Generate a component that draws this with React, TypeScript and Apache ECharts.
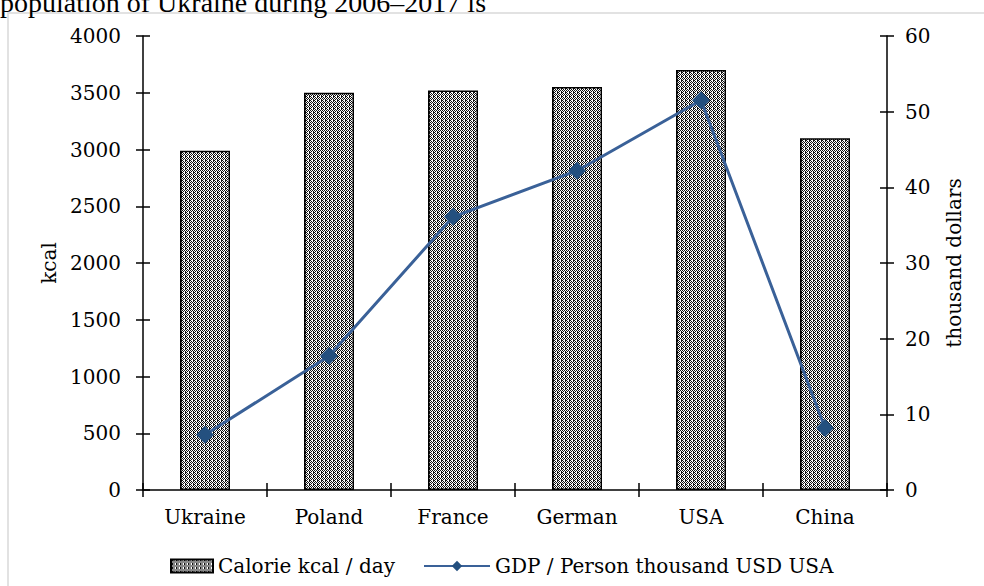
import React, { useEffect, useRef } from "react";
import * as echarts from "echarts";

const categories = ["Ukraine", "Poland", "France", "German", "USA", "China"];
const calories = [2990, 3500, 3520, 3550, 3700, 3100];
const gdp = [7.3, 17.7, 36.1, 42.2, 51.5, 8.2];
const leftTicks = { min: 0, max: 4000, interval: 500 };
const rightTicks = { min: 0, max: 60, interval: 10 };
const barName = "Calorie kcal / day";
const lineName = "GDP / Person thousand USD USA";
const topText = "population of Ukraine during 2006–2017 is";

const FONT = "DejaVu Serif";
const TITLE_FONT = "Liberation Serif";

function makePattern(): HTMLCanvasElement {
  const c = document.createElement("canvas");
  c.width = 4;
  c.height = 4;
  const ctx = c.getContext("2d")!;
  ctx.fillStyle = "#ffffff";
  ctx.fillRect(0, 0, 4, 4);
  ctx.fillStyle = "#111111";
  for (let y = 0; y < 4; y++) {
    for (let x = 0; x < 4; x++) {
      if ((x + y) % 2 === 0 && !(x === 0 && y === 0)) ctx.fillRect(x, y, 1, 1);
    }
  }
  ctx.fillRect(1, 0, 1, 1);
  return c;
}

export default function App() {
  const ref = useRef<HTMLDivElement>(null);
  useEffect(() => {
    if (!ref.current) return;
    const chart = echarts.init(ref.current, undefined, { renderer: "svg" });
    const pattern = { image: makePattern(), repeat: "repeat" } as any;
    const text = { fontFamily: FONT, fontSize: 20, color: "#000" };
    const axisLine = { show: true, lineStyle: { color: "#000", width: 1.5 } };
    const tickStyle = { color: "#000", width: 1.5 };
    const fmt = (v: number) => String(v);
    chart.setOption({
      animation: false,
      backgroundColor: "#fff",
      graphic: [
        {
          type: "rect",
          shape: { x: 8, y: 13, width: 1100, height: 700 },
          style: { fill: "none", stroke: "#d9d9d9", lineWidth: 1.5 },
          silent: true,
          z: -1,
        },
        {
          type: "text",
          x: 0,
          y: -12,
          style: { text: topText, fontFamily: TITLE_FONT, fontSize: 28, fill: "#000" },
        },
      ],
      grid: { left: 143, right: 97, top: 36, bottom: 96 },
      legend: [
        {
          left: 165,
          top: 551,
          itemWidth: 42,
          itemHeight: 13,
          icon: "rect",
          textStyle: { ...text },
          data: [{ name: barName }],
        },
        {
          left: 418,
          top: 551,
          itemWidth: 66,
          itemHeight: 13,
          textStyle: { ...text },
          data: [{ name: lineName }],
        },
      ],
      xAxis: [
        {
          type: "category",
          data: categories,
          axisLine,
          axisTick: { show: true, length: 7, lineStyle: tickStyle },
          axisLabel: { ...text, margin: 17, interval: 0 },
        },
        {
          type: "category",
          data: categories,
          position: "bottom",
          axisLine: { show: false },
          axisTick: { show: true, inside: true, length: 7, lineStyle: tickStyle },
          axisLabel: { show: false },
        },
      ],
      yAxis: [
        {
          type: "value",
          ...leftTicks,
          position: "left",
          name: "kcal",
          nameLocation: "middle",
          nameRotate: 90,
          nameGap: 80,
          nameTextStyle: { ...text },
          axisLine,
          axisTick: { show: true, length: 7, lineStyle: tickStyle },
          axisLabel: { ...text, margin: 22, formatter: fmt },
          splitLine: { show: false },
        },
        {
          type: "value",
          ...rightTicks,
          position: "right",
          name: "thousand dollars",
          nameLocation: "middle",
          nameRotate: 90,
          nameGap: 57,
          nameTextStyle: { ...text },
          axisLine,
          axisTick: { show: true, length: 7, lineStyle: tickStyle },
          axisLabel: { ...text, margin: 18, formatter: fmt },
          splitLine: { show: false },
        },
        {
          type: "value",
          ...leftTicks,
          position: "left",
          axisLine: { show: false },
          axisTick: { show: true, inside: true, length: 7, lineStyle: tickStyle },
          axisLabel: { show: false },
          splitLine: { show: false },
        },
        {
          type: "value",
          ...rightTicks,
          position: "right",
          axisLine: { show: false },
          axisTick: { show: true, inside: true, length: 7, lineStyle: tickStyle },
          axisLabel: { show: false },
          splitLine: { show: false },
        },
      ],
      series: [
        {
          name: barName,
          type: "bar",
          data: calories,
          xAxisIndex: 0,
          yAxisIndex: 0,
          barWidth: 50,
          itemStyle: { color: pattern, borderColor: "#000", borderWidth: 1.5 },
        },
        {
          name: lineName,
          type: "line",
          data: gdp,
          xAxisIndex: 0,
          yAxisIndex: 1,
          symbol: "diamond",
          symbolSize: 18,
          lineStyle: { color: "#3A6198", width: 3 },
          itemStyle: { color: "#24507F" },
          z: 5,
        },
      ],
    });
    return () => chart.dispose();
  }, []);
  return (
    <div
      ref={ref}
      style={{ position: "absolute", left: 0, top: 0, width: 984, height: 586 }}
    />
  );
}
